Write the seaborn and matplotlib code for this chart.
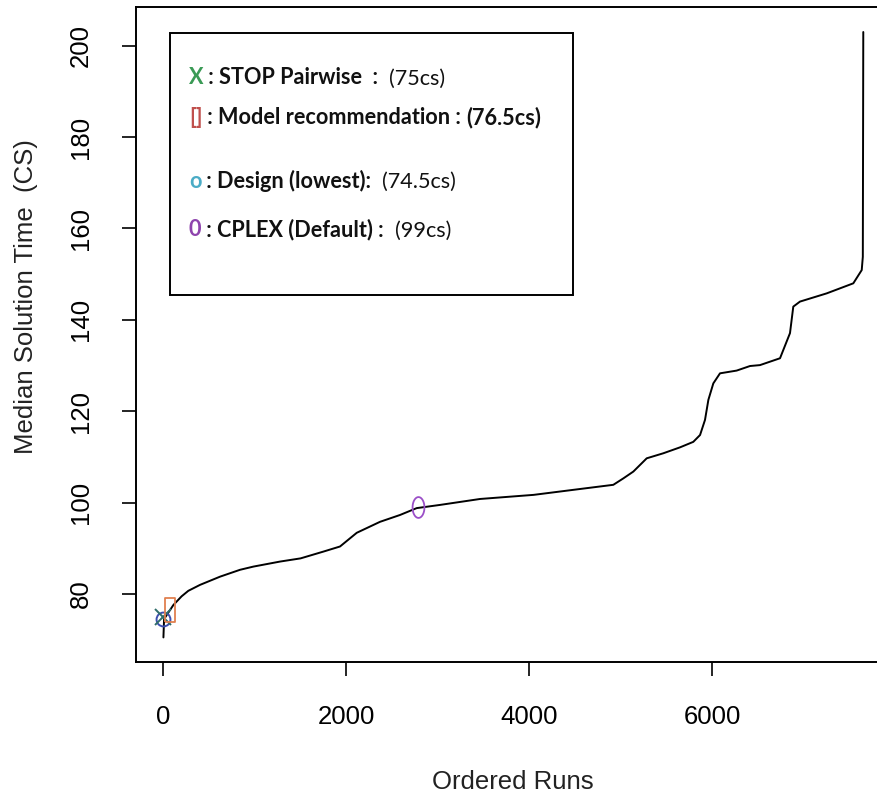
import numpy as np
import matplotlib
matplotlib.use("Agg")
import matplotlib.pyplot as plt
import matplotlib.patches as patches
import seaborn as sns

# ordered runs vs median solution time (knots)
runs = [1, 8, 40, 110, 200, 273, 401, 620, 838, 984, 1275, 1500, 1752, 1931,
        2114, 2368, 2587, 2769, 3024, 3461, 4047, 4481, 4918, 5027, 5137, 5283,
        5464, 5647, 5792, 5866, 5920, 5957, 6011, 6084, 6266, 6412, 6521, 6740,
        6849, 6885, 6958, 7250, 7541, 7633, 7645, 7650]
times = [70.5, 74.5, 75.5, 77.6, 79.5, 80.7, 82.0, 83.8, 85.3, 86.0, 87.1, 87.8,
         89.3, 90.4, 93.4, 95.8, 97.3, 98.8, 99.5, 100.8, 101.7, 102.8, 103.9,
         105.3, 106.8, 109.7, 110.8, 112.1, 113.3, 114.8, 118.1, 122.5, 126.1,
         128.3, 128.9, 129.9, 130.1, 131.6, 137.1, 142.9, 144.0, 145.8, 148.0,
         150.9, 153.8, 203.0]

# highlighted configurations
stop_run, stop_time = 0, 75.0
model_run, model_time = 75, 76.5
design_run, design_time = 0, 74.5
cplex_run, cplex_time = 2780, 99.0

xticks = [0, 2000, 4000, 6000]
yticks = [80, 100, 120, 140, 160, 180, 200]

legend_rows = [
    ("X", "#3a9a55", " : STOP Pairwise  :  ", "(75cs)", "normal"),
    ("[]", "#c0504d", " : Model recommendation : ", "(76.5cs)", "bold"),
    ("o", "#4bacc6", " : Design (lowest):  ", "(74.5cs)", "normal"),
    ("0", "#8e44ad", " : CPLEX (Default) :  ", "(99cs)", "normal"),
]
legend_y = [78, 118, 181, 230]

sns.set_theme(style="white")
plt.rcParams['font.family'] = ['Liberation Sans', 'DejaVu Sans']

W, H = 878, 797
fig = plt.figure(figsize=(W / 100, H / 100), dpi=100)
ax = fig.add_axes([135.7 / W, 1 - 661.5 / H, 754.3 / W, 654.2 / H])

sns.lineplot(x=runs, y=times, ax=ax, color="black", linewidth=1.4, sort=False)

# markers
rect = [(-0.42, -1), (0.42, -1), (0.42, 1), (-0.42, 1), (-0.42, -1)]
t = np.linspace(0, 2 * np.pi, 60)
ell = list(zip(0.57 * np.cos(t), np.sin(t)))
ax.plot([design_run], [design_time], marker="o", ms=10, mfc="none",
        mec="#3d4fb0", mew=1.4, ls="none")
ax.plot([stop_run], [stop_time], marker="x", ms=12, mec="#2f6d6a", mew=1.4, ls="none")
ax.plot([model_run], [model_time], marker=rect, ms=17, mfc="none",
        mec="#e0804f", mew=1.3, ls="none")
ax.plot([cplex_run], [cplex_time], marker=ell, ms=15, mfc="none",
        mec="#9b4fc8", mew=1.3, ls="none")

ax.set_xlim(-302, 7942)
ax.set_ylim(65.23, 208.41)
ax.set_xticks(xticks)
ax.set_yticks(yticks)
ax.tick_params(axis="both", direction="out", length=10, width=1.2, colors="black",
               labelsize=18.5, pad=21, left=True, bottom=True)
for lab in ax.get_yticklabels():
    lab.set_rotation(90)
    lab.set_va("center")
for sp in ax.spines.values():
    sp.set_color("black")
    sp.set_linewidth(1.4)
ax.spines["right"].set_visible(False)

ax.set_xlabel("Ordered Runs", fontsize=18.5, color="#222222", labelpad=30)
ax.set_ylabel("Median Solution Time  (CS)", fontsize=18.5, color="#222222")
ax.yaxis.set_label_coords(-(135.7 - 38) / 754.3, (661.5 - 297) / 654.2)

# pasted legend box
box = patches.Rectangle((170 / W, 1 - 294.7 / H), 402.7 / W, 261.7 / H,
                        transform=fig.transFigure, fill=False, edgecolor="black",
                        linewidth=1.4)
fig.patches.append(box)

lfont = ['Lato', 'DejaVu Sans']
fs = 15.6
for (sym, col, label, val, vw), yy in zip(legend_rows, legend_y):
    t1 = fig.text(189 / W, 1 - yy / H, sym, color=col, fontsize=fs,
                  fontweight="bold", family=lfont, va="center", ha="left")
    a1 = ax.annotate(label, xy=(1, 0), xycoords=t1, va="bottom", ha="left",
                     fontsize=fs, fontweight="bold", family=lfont, color="#111111")
    ax.annotate(val, xy=(1, 0), xycoords=a1, va="bottom", ha="left",
                fontsize=fs, fontweight=vw, family=lfont, color="#111111")

fig.savefig("out.png", dpi=100)
